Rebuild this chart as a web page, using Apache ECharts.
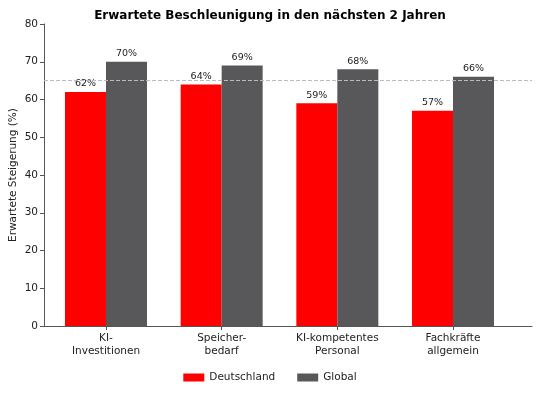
<!DOCTYPE html>
<html>
<head>
<meta charset="utf-8">
<script src="https://cdn.jsdelivr.net/npm/echarts@6/dist/echarts.min.js"></script>
<style>
html,body{margin:0;padding:0;background:#fff;}
#chart{width:540px;height:396px;}
</style>
</head>
<body>
<div id="chart"></div>
<script>
// Daten
var categories = ['KI-\nInvestitionen', 'Speicher-\nbedarf', 'KI-kompetentes\nPersonal', 'Fachkräfte\nallgemein'];
var deutschland = [62, 64, 59, 57];
var global = [70, 69, 68, 66];
var referenz = 65;
var yTicks = [0, 10, 20, 30, 40, 50, 60, 70, 80];

var chart = echarts.init(document.getElementById('chart'));

function toPoints(arr){
	var out = [];
	for (var i = 0; i < arr.length; i++) {
		out.push([i, arr[i]]);
	}
	return out;
}

var catIdx = [];
for (var i = 0; i < categories.length; i++) { catIdx.push(i); }

var option = {
	animation: false,
	textStyle: { fontFamily: 'DejaVu Sans' },
	title: {
		text: 'Erwartete Beschleunigung in den nächsten 2 Jahren',
		left: 'center',
		top: 5,
		textStyle: { fontSize: 12, fontWeight: 'bold', color: '#000', fontFamily: 'DejaVu Sans' }
	},
	legend: {
		bottom: 8,
		left: 'center',
		itemWidth: 21,
		itemHeight: 8,
		itemGap: 22,
		icon: 'rect',
		textStyle: { fontSize: 10.5, color: '#222', fontFamily: 'DejaVu Sans' },
		data: ['Deutschland', 'Global']
	},
	grid: { left: 44, right: 8, top: 24, bottom: 70, outerBoundsMode: 'none' },
	xAxis: {
		type: 'value',
		min: -0.536,
		max: 3.683,
		splitLine: { show: false },
		axisLine: { show: true, onZero: false, lineStyle: { color: '#555', width: 1 } },
		axisTick: { show: true, customValues: catIdx, length: 4, lineStyle: { color: '#555' } },
		axisLabel: {
			customValues: catIdx,
			fontSize: 10.5,
			color: '#222',
			lineHeight: 13,
			margin: 6,
			fontFamily: 'DejaVu Sans',
			formatter: function(v){ return categories[Math.round(v)]; }
		}
	},
	yAxis: {
		type: 'value',
		min: 0,
		max: 80,
		interval: 10,
		name: 'Erwartete Steigerung (%)',
		nameLocation: 'middle',
		nameGap: 25,
		nameMoveOverlap: false,
		nameTextStyle: { fontSize: 10.5, color: '#222', fontFamily: 'DejaVu Sans' },
		splitLine: { show: false },
		axisLine: { show: true, onZero: false, lineStyle: { color: '#555', width: 1 } },
		axisTick: { show: true, length: 4, lineStyle: { color: '#555' } },
		axisLabel: {
			fontSize: 10.5,
			color: '#222',
			margin: 6,
			fontFamily: 'DejaVu Sans',
			formatter: function(v){ return yTicks.indexOf(v) >= 0 ? String(v) : ''; }
		}
	},
	series: [
		{
			name: 'Deutschland',
			type: 'bar',
			barWidth: 41,
			barGap: '0%',
			itemStyle: { color: '#ff0000' },
			label: {
				show: true,
				position: 'top',
				distance: 3,
				fontSize: 9.5,
				color: '#222',
				fontFamily: 'DejaVu Sans',
				formatter: function(p){ return p.value[1] + '%'; }
			},
			data: toPoints(deutschland),
			markLine: {
				silent: true,
				symbol: 'none',
				label: { show: false },
				lineStyle: { color: '#bbbbbb', type: [4, 2], width: 1 },
				data: [{ yAxis: referenz }]
			}
		},
		{
			name: 'Global',
			type: 'bar',
			barWidth: 41,
			barGap: '0%',
			itemStyle: { color: '#58585a' },
			label: {
				show: true,
				position: 'top',
				distance: 3,
				fontSize: 9.5,
				color: '#222',
				fontFamily: 'DejaVu Sans',
				formatter: function(p){ return p.value[1] + '%'; }
			},
			data: toPoints(global)
		}
	]
};

chart.setOption(option);
</script>
</body>
</html>
